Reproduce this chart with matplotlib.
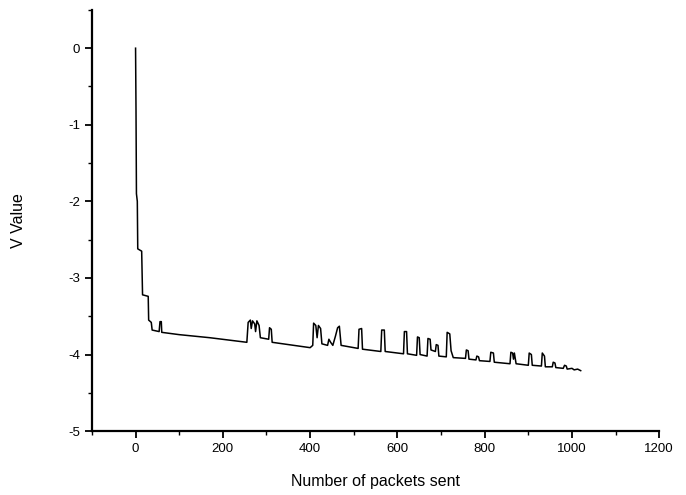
import matplotlib
matplotlib.use('Agg')
import matplotlib.pyplot as plt
from matplotlib.ticker import MultipleLocator

plt.rcParams['font.family'] = ['Liberation Sans', 'DejaVu Sans']
plt.rcParams['axes.unicode_minus'] = False

# V value trace (packets sent, V value)
packets = [0, 1, 2, 4, 5, 14, 16, 29, 30, 36, 38, 54, 56, 59, 60, 100, 170,
           255, 258, 263, 265, 268, 273, 275, 278, 283, 286, 305, 307, 311, 313,
           400, 406, 408, 413, 416, 419, 424, 427, 440, 443, 447, 452, 458, 463,
           467, 471, 510, 512, 518, 520, 562, 564, 570, 572, 614, 616, 621, 623,
           644, 646, 650, 652, 668, 670, 675, 677, 687, 689, 693, 695, 712, 714,
           720, 723, 728, 756, 758, 762, 764, 780, 782, 786, 788, 812, 814, 820,
           822, 858, 860, 864, 866, 868, 872, 900, 902, 907, 909, 930, 932, 937,
           939, 955, 957, 961, 963, 980, 983, 987, 989, 1000, 1005, 1013, 1020]
v_value = [0.0, -0.8, -1.9, -2.0, -2.62, -2.65, -3.22, -3.24, -3.55, -3.58,
           -3.68, -3.70, -3.57, -3.57, -3.71, -3.74, -3.78,
           -3.84, -3.58, -3.55, -3.66, -3.56, -3.60, -3.70, -3.56, -3.62, -3.78,
           -3.80, -3.65, -3.67, -3.84,
           -3.91, -3.88, -3.59, -3.62, -3.78, -3.62, -3.66, -3.86, -3.88, -3.80,
           -3.84, -3.88, -3.76, -3.65, -3.63, -3.88, -3.92, -3.67, -3.66, -3.93,
           -3.96, -3.68, -3.68, -3.96, -3.99, -3.70, -3.70, -3.99,
           -4.01, -3.77, -3.78, -4.00, -4.02, -3.79, -3.80, -3.94, -3.96, -3.87,
           -3.88, -4.02, -4.03, -3.71, -3.73, -3.95, -4.04, -4.05, -3.94, -3.95,
           -4.06, -4.07, -4.02, -4.03, -4.08, -4.09, -3.97, -3.98, -4.10,
           -4.12, -3.97, -3.98, -4.06, -3.98, -4.12, -4.14, -3.98, -4.00, -4.14,
           -4.15, -3.98, -4.02, -4.16, -4.16, -4.10, -4.11, -4.17, -4.18, -4.14,
           -4.15, -4.19, -4.18, -4.20, -4.19, -4.21]

fig = plt.figure(figsize=(6.86, 4.95), dpi=100)
ax = fig.add_axes([0.134, 0.129, 0.827, 0.851])
ax.plot(packets, v_value, color='black', linewidth=1.1)

ax.set_xlim(-100, 1200)
ax.set_ylim(-5, 0.5)
ax.xaxis.set_major_locator(MultipleLocator(200))
ax.xaxis.set_minor_locator(MultipleLocator(100))
ax.yaxis.set_major_locator(MultipleLocator(1))
ax.yaxis.set_minor_locator(MultipleLocator(0.5))

for s in ['top', 'right']:
    ax.spines[s].set_visible(False)
for s in ['left', 'bottom']:
    ax.spines[s].set_linewidth(1.6)
ax.tick_params(which='major', direction='out', length=5, width=1.3, labelsize=9.5)
ax.tick_params(which='minor', direction='out', length=3, width=1.0)

ax.set_xlabel('Number of packets sent', fontsize=11.5, labelpad=14)
ax.set_ylabel('V Value', fontsize=11.5, labelpad=30)

fig.savefig('out.png', dpi=100)
